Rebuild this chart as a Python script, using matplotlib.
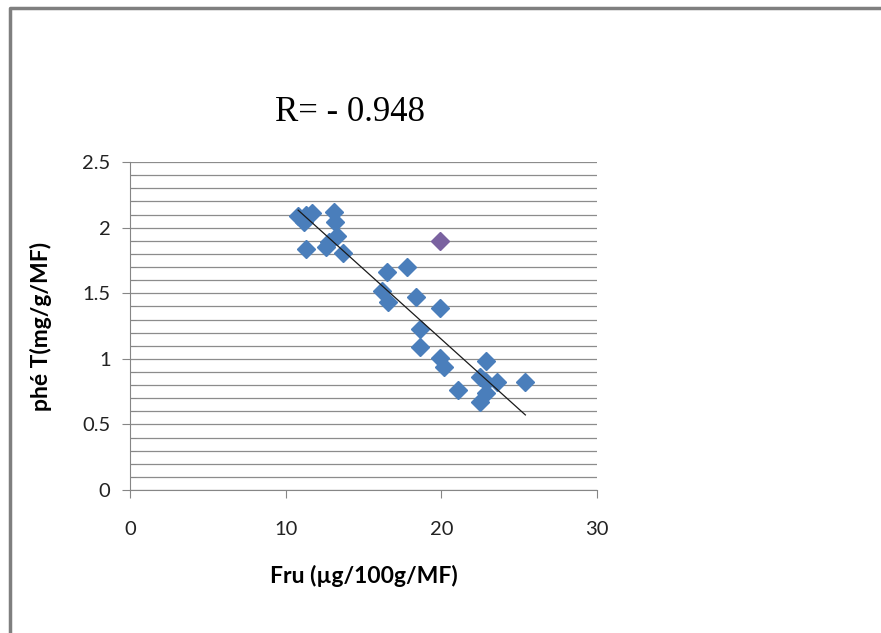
import numpy as np
import matplotlib.pyplot as plt
from matplotlib.ticker import MultipleLocator
from matplotlib.lines import Line2D

# values
fru = [10.8, 11.3, 11.7, 11.2, 11.3, 12.6, 12.8, 13.1, 13.2, 13.3, 13.7,
       16.5, 17.8, 16.2, 16.6, 18.4, 19.9, 18.6, 18.6, 19.9, 20.2, 22.9,
       21.1, 22.5, 22.9, 23.6, 22.5, 22.9, 25.4]
phe = [2.09, 2.10, 2.11, 2.04, 1.84, 1.85, 1.89, 2.12, 2.04, 1.94, 1.81,
       1.66, 1.70, 1.52, 1.43, 1.47, 1.39, 1.23, 1.09, 1.01, 0.94, 0.98,
       0.76, 0.86, 0.82, 0.82, 0.67, 0.74, 0.82]
fru_odd = [19.9]
phe_odd = [1.90]
title = 'R= - 0.948'

plt.rcParams['font.family'] = ['Lato', 'DejaVu Sans']

fig = plt.figure(figsize=(8.81, 6.33), dpi=100)
ax = fig.add_axes([0.1476, 0.2259, 0.530, 0.518])

# trend line (least squares)
a, b = np.polyfit(fru, phe, 1)
xs = np.array([min(fru), max(fru)])
ax.plot(xs, a * xs + b, color='#1a1a1a', lw=0.9, zorder=3)

ax.plot(fru, phe, 'D', color='#4a7ebb', ms=9.5, mec='#4a7ebb', zorder=2)
ax.plot(fru_odd, phe_odd, 'D', color='#7a62a0', ms=9.5, mec='#7a62a0', zorder=2)

ax.set_xlim(0, 30)
ax.set_ylim(0, 2.5)
ax.xaxis.set_major_locator(MultipleLocator(10))
ax.yaxis.set_minor_locator(MultipleLocator(0.1))
ax.set_yticks([0, 0.5, 1, 1.5, 2, 2.5])
ax.set_yticklabels(['0', '0.5', '1', '1.5', '2', '2.5'])
ax.grid(axis='y', which='both', color='#8c8c8c', lw=0.9)
ax.set_axisbelow(True)
for s in ['top', 'right']:
    ax.spines[s].set_visible(False)
for s in ['left', 'bottom']:
    ax.spines[s].set_color('#868686')
ax.tick_params(which='major', length=6, color='#868686', labelsize=14.5,
               labelcolor='#222222')
ax.tick_params(axis='y', which='minor', length=4, direction='in', color='#868686')
ax.tick_params(axis='x', pad=16)
ax.tick_params(axis='y', pad=8)

ax.set_xlabel('Fru (µg/100g/MF)', fontsize=16.5, fontweight='bold', labelpad=20)
ax.set_ylabel('phé T(mg/g/MF)', fontsize=16.5, fontweight='bold', labelpad=22)
fig.text(0.397, 0.822, title, family='Liberation Serif', fontsize=25,
         ha='center', va='center')

# chart border (top and left edges visible)
fig.add_artist(Line2D([0.011, 0.011, 1.0], [0.0, 0.987, 0.987],
                      transform=fig.transFigure, color='#7f7f7f', lw=2.5))

fig.savefig('out.png', dpi=100)
